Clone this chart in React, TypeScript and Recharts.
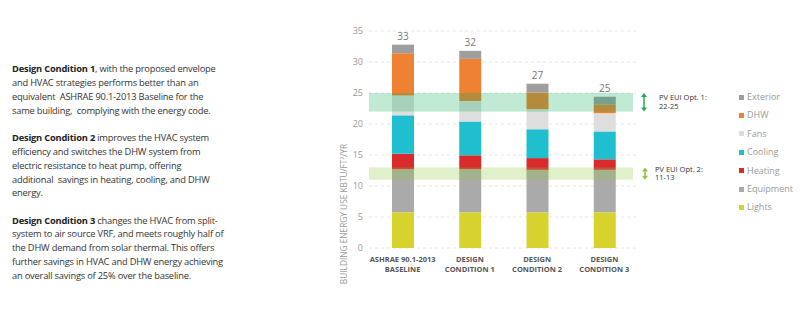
import React from "react";
import {
  BarChart,
  Bar,
  XAxis,
  YAxis,
  CartesianGrid,
  ReferenceArea,
  LabelList,
  Legend,
} from "recharts";

const categories = [
  "ASHRAE 90.1-2013|BASELINE",
  "DESIGN|CONDITION 1",
  "DESIGN|CONDITION 2",
  "DESIGN|CONDITION 3",
];
const lights = [5.75, 5.75, 5.75, 5.75];
const equipment = [6.95, 6.95, 6.85, 6.85];
const heating = [2.5, 2.25, 1.9, 1.7];
const cooling = [6.2, 5.45, 4.65, 4.5];
const fans = [3.2, 3.3, 3.25, 2.95];
const dhw = [6.8, 6.8, 2.7, 1.35];
const exterior = [1.4, 1.3, 1.4, 1.3];
const totals = [33, 32, 27, 25];
const yTicks = [0, 5, 10, 15, 20, 25, 30, 35];

const pvBand1 = [22, 25];
const pvBand2 = [11, 13];

const series = [
  { key: "Lights", values: lights, color: "#d7d22e" },
  { key: "Equipment", values: equipment, color: "#aaaaaa" },
  { key: "Heating", values: heating, color: "#d92b2b" },
  { key: "Cooling", values: cooling, color: "#1fbfcf" },
  { key: "Fans", values: fans, color: "#dedede" },
  { key: "DHW", values: dhw, color: "#ef8133" },
  { key: "Exterior", values: exterior, color: "#9e9e9e" },
];

const data = categories.map((c, i) => {
  const row: Record<string, any> = { name: c, total: totals[i] };
  series.forEach((s) => {
    row[s.key] = s.values[i];
  });
  return row;
});

const paragraphs = [
  {
    bold: "Design Condition 1",
    lines: [
      ", with the proposed envelope",
      "and HVAC strategies performs better than an",
      "equivalent  ASHRAE 90.1-2013 Baseline for the",
      "same building,  complying with the energy code.",
    ],
  },
  {
    bold: "Design Condition 2",
    lines: [
      " improves the HVAC system",
      "efficiency and switches the DHW system from",
      "electric resistance to heat pump, offering",
      "additional  savings in heating, cooling, and DHW",
      "energy.",
    ],
  },
  {
    bold: "Design Condition 3",
    lines: [
      " changes the HVAC from split-",
      "system to air source VRF, and meets roughly half of",
      "the DHW demand from solar thermal. This offers",
      "further savings in HVAC and DHW energy achieving",
      "an overall savings of 25% over the baseline.",
    ],
  },
];

const XTick = (props: any) => {
  const { x, y, payload } = props;
  const parts = String(payload.value).split("|");
  return (
    <text
      x={x}
      y={y}
      textAnchor="middle"
      fontFamily="Open Sans"
      fontSize={7.5}
      fontWeight={700}
      fill="#555"
    >
      {parts.map((p, i) => (
        <tspan key={i} x={x} dy={i === 0 ? 5.5 : 10}>
          {p}
        </tspan>
      ))}
    </text>
  );
};

const makeBandLabel = (color: string, l1: string, l2: string, arrowDx: number, textDx: number) =>
  (props: any) => {
    const vb = props.viewBox || {};
    const ax = vb.x + vb.width + arrowDx;
    const top = vb.y;
    const bot = vb.y + vb.height;
    const cy = vb.y + vb.height / 2;
    const h = 4;
    return (
      <g>
        <line x1={ax} x2={ax} y1={top + 3} y2={bot - 3} stroke={color} strokeWidth={1.5} />
        <polygon points={`${ax - 3},${top + h} ${ax + 3},${top + h} ${ax},${top}`} fill={color} />
        <polygon points={`${ax - 3},${bot - h} ${ax + 3},${bot - h} ${ax},${bot}`} fill={color} />
        <text x={ax + textDx} y={cy - 2} fontFamily="Open Sans" fontSize={7.5} fill="#333">
          {l1}
        </text>
        <text x={ax + textDx} y={cy + 6.5} fontFamily="Open Sans" fontSize={7.5} fill="#333">
          {l2}
        </text>
      </g>
    );
  };

const bandShape = (fill: string, opacity: number) => (props: any) => (
  <rect
    x={props.x}
    y={props.y}
    width={Math.max(0, props.width - 5)}
    height={props.height}
    fill={fill}
    fillOpacity={opacity}
  />
);

const LegendContent = () => (
  <div style={{ fontFamily: "Open Sans", fontSize: 9, color: "#999" }}>
    {[...series].reverse().map((s) => (
      <div
        key={s.key}
        style={{ display: "flex", alignItems: "center", height: 18.4, lineHeight: "18.4px" }}
      >
        <span
          style={{
            display: "inline-block",
            width: 5,
            height: 5,
            background: s.color,
            marginRight: 3,
          }}
        />
        <span>{s.key}</span>
      </div>
    ))}
  </div>
);

export default function App() {
  return (
    <div
      style={{
        position: "absolute",
        left: 0,
        top: 0,
        width: 800,
        height: 330,
        background: "#fff",
        overflow: "hidden",
      }}
    >
      <div
        style={{
          position: "absolute",
          left: 12,
          top: 62,
          fontFamily: "Open Sans",
          fontSize: 9.3,
          lineHeight: "13.9px",
          color: "#333",
          whiteSpace: "pre",
          letterSpacing: -0.2,
        }}
      >
        {paragraphs.map((p, pi) => (
          <div key={pi} style={{ marginBottom: pi < 2 ? 13.2 : 0 }}>
            {p.lines.map((l, li) => (
              <div key={li}>
                {li === 0 ? <b style={{ color: "#222" }}>{p.bold}</b> : null}
                {l}
              </div>
            ))}
          </div>
        ))}
      </div>
      <div style={{ position: "absolute", left: 0, top: 0 }}>
        <BarChart
          width={800}
          height={330}
          data={data}
          margin={{ top: 31, right: 92, bottom: 52, left: 339 }}
        >
          <CartesianGrid vertical={false} stroke="#e6e6e6" strokeDasharray="3 3" />
          <XAxis
            dataKey="name"
            axisLine={false}
            tickLine={false}
            interval={0}
            tick={<XTick />}
          />
          <YAxis
            width={30}
            domain={[0, 35]}
            ticks={yTicks}
            axisLine={false}
            tickLine={false}
            tickMargin={0}
            tick={{ fontFamily: "Open Sans", fontSize: 9, fill: "#999" }}
            label={(props: any) => (
              <text
                x={343}
                y={214}
                transform="rotate(-90, 343, 214)"
                textAnchor="middle"
                dominantBaseline="central"
                fontFamily="Open Sans"
                fontSize={8.3}
                fill="#999"
              >
                BUILDING ENERGY USE KBTU/FT²/YR
              </text>
            )}
          />
          <Legend
            layout="vertical"
            verticalAlign="top"
            align="right"
            width={70}
            content={<LegendContent />}
            wrapperStyle={{ left: 739, top: 88, width: 70 }}
          />
          {series.map((s, i) => (
            <Bar
              key={s.key}
              dataKey={s.key}
              stackId="a"
              fill={s.color}
              barSize={22}
              isAnimationActive={false}
            >
              {i === series.length - 1 ? (
                <LabelList
                  dataKey="total"
                  position="top"
                  offset={5}
                  style={{ fontFamily: "Open Sans", fontSize: 10, fill: "#777" }}
                />
              ) : null}
            </Bar>
          ))}
          <ReferenceArea
            y1={pvBand1[0]}
            y2={pvBand1[1]}
            ifOverflow="visible"
            zIndex={1000}
            shape={bandShape("#03ac52", 0.25)}
            label={makeBandLabel("#1fae55", "PV EUI Opt. 1:", "22-25", 6, 15)}
          />
          <ReferenceArea
            y1={pvBand2[0]}
            y2={pvBand2[1]}
            ifOverflow="visible"
            zIndex={1000}
            shape={bandShape("#8dc63f", 0.27)}
            label={makeBandLabel("#8dc63f", "PV EUI Opt. 2:", "11-13", 7, 10)}
          />
        </BarChart>
      </div>
    </div>
  );
}
